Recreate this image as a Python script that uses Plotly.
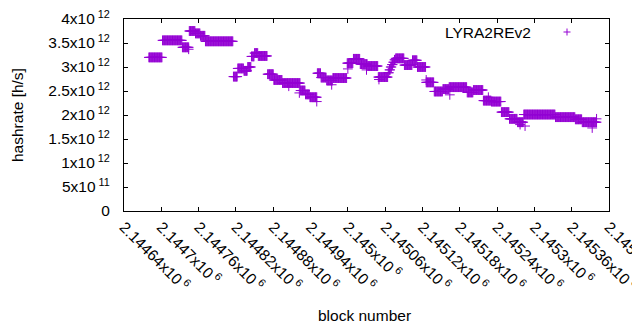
import plotly.graph_objects as go

# ---- data (hashrate in units of 1e12 h/s) ----
run_first_block = [2144680, 2144702, 2144734, 2144745, 2144755, 2144763, 2144771, 2144816,
                   2144823, 2144833, 2144839, 2144845, 2144850, 2144856, 2144871, 2144881,
                   2144895, 2144924, 2144932, 2144939, 2144951, 2144957, 2144966, 2144976,
                   2144999, 2145009, 2145020, 2145032, 2145049, 2145065, 2145067, 2145069,
                   2145071, 2145073, 2145075, 2145077, 2145091, 2145104, 2145112, 2145126,
                   2145139, 2145153, 2145163, 2145192, 2145202, 2145218, 2145231, 2145247,
                   2145260, 2145273, 2145283, 2145334, 2145366, 2145377]
run_last_block = [2144701, 2144733, 2144744, 2144754, 2144762, 2144770, 2144815, 2144822,
                  2144832, 2144838, 2144844, 2144849, 2144855, 2144870, 2144880, 2144894,
                  2144923, 2144931, 2144938, 2144950, 2144956, 2144965, 2144975, 2144998,
                  2145008, 2145019, 2145031, 2145048, 2145064, 2145066, 2145068, 2145070,
                  2145072, 2145074, 2145076, 2145090, 2145103, 2145111, 2145125, 2145138,
                  2145152, 2145162, 2145191, 2145201, 2145217, 2145230, 2145246, 2145259,
                  2145272, 2145282, 2145333, 2145365, 2145376, 2145400]
run_hashrate_e12 = [3.20, 3.555, 3.41, 3.75, 3.70, 3.65, 3.535, 2.80,
                    2.97, 2.92, 3.00, 3.22, 3.29, 3.23, 2.85, 2.73,
                    2.665, 2.51, 2.43, 2.37, 2.87, 2.78, 2.72, 2.77,
                    3.08, 3.17, 3.06, 3.02, 2.79, 2.88, 2.94, 3.00,
                    3.05, 3.10, 3.15, 3.18, 3.04, 3.14, 3.00, 2.68,
                    2.49, 2.54, 2.58, 2.47, 2.52, 2.30, 2.28, 2.06,
                    1.92, 1.85, 2.01, 1.955, 1.91, 1.85]

outlier_block = [2144744, 2144905, 2144922, 2144950, 2144974, 2145000, 2145030, 2145050,
                 2145126, 2145164, 2145226, 2145277, 2145285, 2145393, 2145400]
outlier_hashrate_e12 = [3.37, 2.60, 2.46, 2.28, 2.63, 2.96, 2.94, 2.74,
                        2.73, 2.42, 2.37, 1.80, 1.77, 1.73, 1.92]

x_tick_blocks = [2144640, 2144700, 2144760, 2144820, 2144880, 2144940, 2145000,
                 2145060, 2145120, 2145180, 2145240, 2145300, 2145360, 2145420]
x_tick_mantissa = ["2.14464", "2.1447", "2.14476", "2.14482", "2.14488", "2.14494", "2.145",
                   "2.14506", "2.14512", "2.14518", "2.14524", "2.1453", "2.14536", "2.14542"]
y_tick_values = [0, 0.5e12, 1e12, 1.5e12, 2e12, 2.5e12, 3e12, 3.5e12, 4e12]
y_tick_mantissa = ["0", "5", "1", "1.5", "2", "2.5", "3", "3.5", "4"]
y_tick_exponent = ["", "11", "12", "12", "12", "12", "12", "12", "12"]

# expand the constant runs: one point per block
blocks, rates = [], []
for b0, b1, v in zip(run_first_block, run_last_block, run_hashrate_e12):
    for b in range(b0, b1 + 1):
        blocks.append(b)
        rates.append(v * 1e12)
for b, v in zip(outlier_block, outlier_hashrate_e12):
    blocks.append(b)
    rates.append(v * 1e12)

COLOR = "#9400D3"
FONT = "Liberation Sans, Arial, sans-serif"
FS = 15.5
TXT = "#000000"


def sci(m, e):
    return m if not e else f"{m}x10<sup> {e}</sup>"


# The plot div sits 8px in from the page corner (default body margin),
# so the figure is 8px smaller and margins are reduced accordingly.
OFF = 8
W, H = 640 - OFF, 330 - OFF
L, T, R, B = 124 - OFF, 19 - OFF, 31, 119
PW, PH = 485, 192


def px(xp):
    return (xp - 124) / PW


def py(yp):
    return (211 - yp) / PH


fig = go.Figure()
fig.add_trace(go.Scatter(
    x=blocks, y=rates, mode="markers", name="LYRA2REv2", showlegend=False,
    marker=dict(symbol="cross-thin", size=7, color=COLOR,
                line=dict(color=COLOR, width=1)),
    hoverinfo="skip",
))

axis_common = dict(
    showgrid=False, zeroline=False, showline=True, linecolor="black", linewidth=1,
    mirror="allticks", ticks="inside", ticklen=4, tickwidth=1, tickcolor="black",
    tickfont=dict(family=FONT, size=FS, color=TXT),
    automargin=False, ticklabeloverflow="allow",
)

fig.update_layout(
    width=W, height=H,
    margin=dict(l=L, r=R, t=T, b=B, pad=0),
    paper_bgcolor="white", plot_bgcolor="white",
    font=dict(family=FONT, size=FS, color=TXT),
    xaxis=dict(
        range=[2144640, 2145420],
        tickmode="array", tickvals=x_tick_blocks,
        ticktext=[sci(m, "6") for m in x_tick_mantissa],
        tickangle=45,
        **axis_common,
    ),
    yaxis=dict(
        range=[0, 4e12],
        tickmode="array", tickvals=y_tick_values,
        ticktext=[sci(m, e) for m, e in zip(y_tick_mantissa, y_tick_exponent)],
        ticklabelstandoff=10,
        **axis_common,
    ),
    annotations=[
        dict(text="LYRA2REv2", xref="paper", yref="paper", x=px(533), y=py(32),
             xanchor="right", yanchor="middle", showarrow=False,
             font=dict(family=FONT, size=FS, color=TXT)),
        dict(text="block number", xref="paper", yref="paper", x=px(364), y=py(315),
             xanchor="center", yanchor="middle", showarrow=False,
             font=dict(family=FONT, size=FS, color=TXT)),
        dict(text="hashrate [h/s]", xref="paper", yref="paper", x=px(17), y=py(115),
             xanchor="center", yanchor="middle", showarrow=False, textangle=-90,
             font=dict(family=FONT, size=FS, color=TXT)),
    ],
    shapes=[
        dict(type="line", xref="paper", yref="paper",
             x0=px(563.5), x1=px(570.5), y0=py(32), y1=py(32),
             line=dict(color=COLOR, width=1)),
        dict(type="line", xref="paper", yref="paper",
             x0=px(567), x1=px(567), y0=py(28.5), y1=py(35.5),
             line=dict(color=COLOR, width=1)),
    ],
)

fig.write_html("out.html")
